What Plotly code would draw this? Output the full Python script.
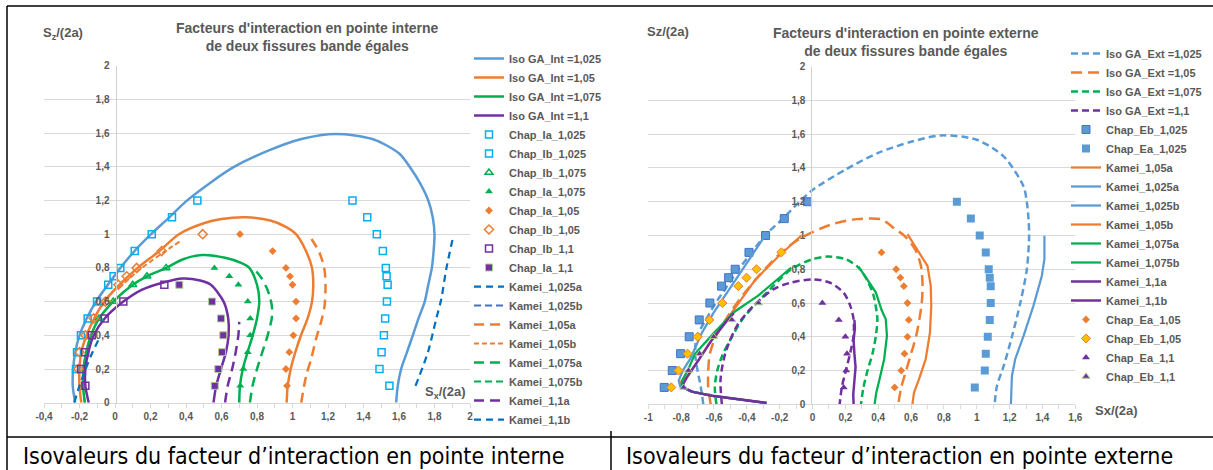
import plotly.graph_objects as go

W, H = 1213, 470
FONT = "Liberation Sans, Arial, sans-serif"
GRAY = "#595959"
BLUE, ORANGE, GREEN, PURPLE = "#5B9BD5", "#ED7D31", "#00B050", "#7030A0"
CYAN, DBLUE, MBLUE, LGREEN, GOLD = "#00B0F0", "#0070C0", "#4472C4", "#A9D18E", "#FFC000"

# ---------------- tick labels ----------------
X1_TICKS = [-0.4, -0.2, 0, 0.2, 0.4, 0.6, 0.8, 1, 1.2, 1.4, 1.6, 1.8, 2]
X1_LABELS = ["-0,4", "-0,2", "0", "0,2", "0,4", "0,6", "0,8", "1", "1,2", "1,4", "1,6", "1,8", "2"]
X2_TICKS = [-1, -0.8, -0.6, -0.4, -0.2, 0, 0.2, 0.4, 0.6, 0.8, 1, 1.2, 1.4, 1.6]
X2_LABELS = ["-1", "-0,8", "-0,6", "-0,4", "-0,2", "0", "0,2", "0,4", "0,6", "0,8", "1", "1,2", "1,4", "1,6"]
Y_TICKS = [0, 0.2, 0.4, 0.6, 0.8, 1, 1.2, 1.4, 1.6, 1.8, 2]
Y_LABELS = ["0", "0,2", "0,4", "0,6", "0,8", "1", "1,2", "1,4", "1,6", "1,8", "2"]

# ---------------- LEFT chart (pointe interne) ----------------
iso_int_1025_x = [-0.224, -0.238, -0.236, -0.224, -0.2, -0.16, -0.107, -0.04, 0.03, 0.11, 0.203, 0.306, 0.40, 0.53, 0.663, 0.85, 1.05, 1.245, 1.45, 1.6, 1.66, 1.72, 1.765, 1.79, 1.80, 1.795, 1.785, 1.765, 1.745, 1.71, 1.678, 1.645, 1.612, 1.593, 1.584]
iso_int_1025_y = [0, 0.1, 0.2, 0.3, 0.4, 0.5, 0.6, 0.7, 0.8, 0.9, 1.0, 1.1, 1.195, 1.3, 1.395, 1.49, 1.565, 1.595, 1.565, 1.48, 1.4, 1.3, 1.2, 1.1, 1.0, 0.9, 0.8, 0.7, 0.6, 0.5, 0.4, 0.3, 0.2, 0.1, 0]
iso_int_105_x = [-0.19, -0.2, -0.2, -0.19, -0.16, -0.117, -0.06, 0.025, 0.128, 0.25, 0.36, 0.5, 0.6, 0.74, 0.88, 0.96, 1.02, 1.076, 1.11, 1.117, 1.11, 1.085, 1.048, 1.016, 0.99, 0.973, 0.967]
iso_int_105_y = [0, 0.1, 0.2, 0.3, 0.4, 0.5, 0.6, 0.7, 0.8, 0.9, 1.0, 1.065, 1.09, 1.1, 1.08, 1.045, 1.0, 0.9, 0.8, 0.7, 0.6, 0.5, 0.4, 0.3, 0.2, 0.1, 0]
iso_int_1075_x = [-0.17, -0.18, -0.178, -0.162, -0.135, -0.09, -0.01, 0.1, 0.18, 0.29, 0.38, 0.49, 0.62, 0.71, 0.757, 0.8, 0.813, 0.8, 0.776, 0.747, 0.72, 0.704, 0.70]
iso_int_1075_y = [0, 0.1, 0.2, 0.3, 0.4, 0.5, 0.6, 0.7, 0.75, 0.8, 0.85, 0.876, 0.86, 0.83, 0.8, 0.7, 0.6, 0.5, 0.4, 0.3, 0.2, 0.1, 0]
iso_int_11_x = [-0.148, -0.167, -0.167, -0.15, -0.12, -0.058, 0.047, 0.15, 0.278, 0.38, 0.48, 0.54, 0.612, 0.638, 0.64, 0.625, 0.597, 0.57, 0.555]
iso_int_11_y = [0, 0.1, 0.2, 0.3, 0.4, 0.5, 0.6, 0.67, 0.715, 0.737, 0.725, 0.7, 0.6, 0.5, 0.4, 0.3, 0.2, 0.1, 0]

chap_ia_1025_x = [1.338, 1.421, 1.475, 1.509, 1.526, 1.53, 1.536, 1.532, 1.522, 1.515, 1.502, 1.49, 1.546]
chap_ia_1025_y = [1.2, 1.1, 1.0, 0.9, 0.8, 0.75, 0.7, 0.6, 0.5, 0.4, 0.3, 0.2, 0.1]
chap_ib_1025_x = [-0.22, -0.214, -0.192, -0.154, -0.101, -0.038, -0.008, 0.03, 0.111, 0.207, 0.321, 0.464]
chap_ib_1025_y = [0.2, 0.3, 0.4, 0.5, 0.6, 0.7, 0.75, 0.8, 0.9, 1.0, 1.1, 1.2]
chap_ib_1075_x = [0.288, 0.18, 0.1, -0.01, -0.09]
chap_ib_1075_y = [0.8, 0.75, 0.7, 0.6, 0.5]
chap_ia_1075_x = [0.56, 0.644, 0.695, 0.748, 0.762, 0.762, 0.748, 0.723, 0.706]
chap_ia_1075_y = [0.8, 0.75, 0.7, 0.6, 0.5, 0.4, 0.3, 0.2, 0.1]
chap_ia_105_x = [0.704, 0.888, 0.963, 0.986, 1.0, 1.02, 1.02, 1.005, 0.982, 0.963, 0.969]
chap_ia_105_y = [1.0, 0.9, 0.8, 0.75, 0.7, 0.6, 0.5, 0.4, 0.3, 0.2, 0.1]
chap_ib_105_x = [0.494, 0.263, 0.122, 0.066, 0.019, -0.054, -0.12, -0.167, -0.2, -0.207]
chap_ib_105_y = [1.0, 0.9, 0.8, 0.75, 0.7, 0.6, 0.5, 0.4, 0.3, 0.2]
chap_ib_11_x = [0.278, 0.047, -0.058, -0.131, -0.169, -0.191, -0.167]
chap_ib_11_y = [0.7, 0.6, 0.5, 0.4, 0.3, 0.2, 0.1]
chap_ia_11_x = [0.362, 0.547, 0.597, 0.61, 0.603, 0.582, 0.562]
chap_ia_11_y = [0.7, 0.6, 0.5, 0.4, 0.3, 0.2, 0.1]

kamei_1025a_x = [1.693, 1.763, 1.809, 1.838, 1.866, 1.904]
kamei_1025a_y = [0.1, 0.3, 0.495, 0.614, 0.792, 0.98]
kamei_1025b_x = [-0.18, -0.107, -0.04, 0.03]
kamei_1025b_y = [0.45, 0.6, 0.7, 0.8]
kamei_105a_x = [1.049, 1.077, 1.105, 1.133, 1.161, 1.18, 1.186, 1.18, 1.152, 1.096]
kamei_105a_y = [0.0, 0.16, 0.26, 0.38, 0.48, 0.57, 0.69, 0.79, 0.89, 0.99]
kamei_105b_x = [0.02, 0.14, 0.27, 0.37]
kamei_105b_y = [0.68, 0.79, 0.89, 0.96]
kamei_1075a_x = [0.76, 0.775, 0.8, 0.83, 0.86, 0.883, 0.885, 0.875, 0.855, 0.825, 0.795]
kamei_1075a_y = [0.0, 0.1, 0.2, 0.3, 0.4, 0.5, 0.56, 0.62, 0.68, 0.74, 0.78]
kamei_1075b_x = [-0.17, -0.18, -0.178, -0.162]
kamei_1075b_y = [0.0, 0.1, 0.2, 0.3]
kamei_11a_x = [0.62, 0.635, 0.66, 0.68, 0.695, 0.70]
kamei_11a_y = [0.0, 0.1, 0.2, 0.3, 0.4, 0.48]
kamei_11b_x = [-0.23, -0.2, -0.165, -0.135, -0.09]
kamei_11b_y = [0.0, 0.1, 0.2, 0.28, 0.38]

# ---------------- RIGHT chart (pointe externe) ----------------
iso_ext_1025_x = [-0.665, -0.68, -0.70, -0.715, -0.705, -0.65, -0.59, -0.52, -0.45, -0.37, -0.29, -0.18, -0.08, 0.0, 0.2, 0.4, 0.6, 0.78, 1.0, 1.165, 1.285, 1.305, 1.315, 1.319, 1.305, 1.265, 1.214, 1.164, 1.123, 1.109]
iso_ext_1025_y = [0, 0.1, 0.2, 0.3, 0.4, 0.5, 0.6, 0.7, 0.8, 0.9, 1.0, 1.1, 1.2, 1.27, 1.39, 1.49, 1.555, 1.593, 1.567, 1.467, 1.29, 1.196, 1.1, 1.0, 0.8, 0.6, 0.4, 0.227, 0.109, 0]
iso_ext_105_x = [-0.62, -0.635, -0.635, -0.625, -0.59, -0.53, -0.46, -0.38, -0.29, -0.19, -0.08, 0.0, 0.12, 0.27, 0.42, 0.5, 0.56, 0.624, 0.66, 0.67, 0.665, 0.65, 0.63, 0.6, 0.57, 0.54, 0.522]
iso_ext_105_y = [0, 0.1, 0.2, 0.3, 0.4, 0.5, 0.6, 0.7, 0.8, 0.9, 0.98, 1.02, 1.067, 1.097, 1.095, 1.04, 0.998, 0.919, 0.82, 0.7, 0.6, 0.5, 0.4, 0.3, 0.2, 0.1, 0]
iso_ext_1075_x = [-0.585, -0.595, -0.58, -0.545, -0.49, -0.43, -0.34, -0.24, -0.13, 0.0, 0.09, 0.2, 0.28, 0.33, 0.37, 0.39, 0.395, 0.385, 0.365, 0.335, 0.31, 0.295]
iso_ext_1075_y = [0, 0.1, 0.2, 0.3, 0.4, 0.5, 0.6, 0.7, 0.8, 0.86, 0.875, 0.86, 0.81, 0.74, 0.65, 0.55, 0.5, 0.4, 0.3, 0.2, 0.1, 0]
iso_ext_11_x = [-0.552, -0.56, -0.53, -0.46, -0.36, -0.237, -0.136, 0.006, 0.107, 0.19, 0.23, 0.25, 0.25, 0.23, 0.2, 0.18, 0.165]
iso_ext_11_y = [0, 0.148, 0.306, 0.465, 0.583, 0.682, 0.72, 0.74, 0.72, 0.66, 0.583, 0.504, 0.405, 0.306, 0.188, 0.109, 0]

chap_eb_1025_x = [-0.903, -0.854, -0.803, -0.751, -0.69, -0.625, -0.554, -0.511, -0.471, -0.387, -0.286, -0.172, -0.03]
chap_eb_1025_y = [0.1, 0.2, 0.3, 0.4, 0.5, 0.6, 0.7, 0.75, 0.8, 0.9, 1.0, 1.1, 1.2]
chap_ea_1025_x = [0.879, 0.964, 1.018, 1.055, 1.073, 1.079, 1.085, 1.085, 1.079, 1.067, 1.055, 1.049, 0.988]
chap_ea_1025_y = [1.2, 1.1, 1.0, 0.9, 0.8, 0.75, 0.7, 0.6, 0.5, 0.4, 0.3, 0.2, 0.1]

kam_e_105a_x = [-0.28, -0.41, -0.61, -0.735, -0.8, -0.805, -0.765, -0.695, -0.63, -0.553, -0.45, -0.35, -0.21, -0.068]
kam_e_105a_y = [0.008, 0.025, 0.05, 0.075, 0.105, 0.13, 0.164, 0.262, 0.36, 0.46, 0.6, 0.736, 0.874, 1.0]
kam_e_1025a_x = [-0.28, -0.41, -0.61, -0.735, -0.805, -0.815, -0.79, -0.744, -0.673, -0.602, -0.521, -0.44, -0.36, -0.288]
kam_e_1025a_y = [0.008, 0.025, 0.05, 0.075, 0.105, 0.14, 0.2, 0.27, 0.425, 0.543, 0.662, 0.78, 0.9, 1.0]
kam_e_1025b_x = [1.208, 1.214, 1.234, 1.285, 1.345, 1.396, 1.412, 1.412]
kam_e_1025b_y = [0.0, 0.168, 0.267, 0.405, 0.583, 0.76, 0.86, 0.998]
kam_e_105b_x = [0.608, 0.618, 0.648, 0.689, 0.715, 0.723, 0.72, 0.70, 0.648, 0.578]
kam_e_105b_y = [0.0, 0.069, 0.148, 0.267, 0.425, 0.583, 0.70, 0.82, 0.9, 1.008]
kam_e_1075a_x = [-0.28, -0.41, -0.61, -0.735, -0.795, -0.795, -0.76, -0.715, -0.594, -0.473, -0.331, -0.19, -0.13]
kam_e_1075a_y = [0.008, 0.025, 0.05, 0.075, 0.105, 0.14, 0.2, 0.3, 0.43, 0.55, 0.644, 0.76, 0.81]
kam_e_1075b_x = [0.378, 0.388, 0.408, 0.436, 0.453, 0.446, 0.42, 0.386, 0.34, 0.28]
kam_e_1075b_y = [0.0, 0.069, 0.148, 0.267, 0.405, 0.504, 0.56, 0.662, 0.73, 0.815]
kam_e_11a_x = [-0.28, -0.41, -0.61, -0.735, -0.785, -0.785, -0.765, -0.695, -0.614, -0.533, -0.48]
kam_e_11a_y = [0.008, 0.025, 0.05, 0.075, 0.1, 0.125, 0.16, 0.26, 0.38, 0.48, 0.54]
kam_e_11b_x = [0.25, 0.248, 0.255, 0.262, 0.255, 0.25, 0.258, 0.255]
kam_e_11b_y = [0.0, 0.06, 0.14, 0.22, 0.3, 0.38, 0.45, 0.5]

chap_ea_105_x = [0.42, 0.509, 0.535, 0.556, 0.578, 0.586, 0.578, 0.56, 0.54, 0.5]
chap_ea_105_y = [0.9, 0.8, 0.75, 0.7, 0.6, 0.5, 0.4, 0.3, 0.2, 0.1]
chap_eb_105_x = [-0.86, -0.816, -0.761, -0.699, -0.628, -0.549, -0.452, -0.402, -0.341, -0.19]
chap_eb_105_y = [0.1, 0.2, 0.3, 0.4, 0.5, 0.6, 0.7, 0.75, 0.8, 0.9]
chap_ea_11_x = [0.06, 0.16, 0.2, 0.21, 0.205, 0.19]
chap_ea_11_y = [0.6, 0.5, 0.4, 0.3, 0.2, 0.1]
chap_eb_11_x = [-0.785, -0.755, -0.688, -0.602, -0.491, -0.329]
chap_eb_11_y = [0.1, 0.2, 0.3, 0.4, 0.5, 0.6]

fig = go.Figure()


def line(name, xs, ys, color, width, dash, legend, side, shape="spline", order=0):
    fig.add_trace(go.Scatter(
        x=xs, y=ys, name=name, mode="lines",
        line=dict(color=color, width=width, dash=dash, shape=shape, smoothing=0.8 if shape == "spline" else None),
        xaxis="x" if side == 1 else "x2", yaxis="y" if side == 1 else "y2",
        legend=legend, legendrank=order, hoverinfo="skip"))


def pts(name, xs, ys, symbol, color, size, lcolor=None, lwidth=0, legend="legend", side=1, order=0):
    fig.add_trace(go.Scatter(
        x=xs, y=ys, name=name, mode="markers",
        marker=dict(symbol=symbol, color=color, size=size,
                    line=dict(color=lcolor or color, width=lwidth)),
        xaxis="x" if side == 1 else "x2", yaxis="y" if side == 1 else "y2",
        legend=legend, legendrank=order, hoverinfo="skip"))


# series hidden under others are drawn first (legend order fixed by legendrank)
line("Kamei_1,025b", kamei_1025b_x, kamei_1025b_y, MBLUE, 2, "7px,4px", "legend", 1, order=140)
line("Kamei_1,075b", kamei_1075b_x, kamei_1075b_y, GREEN, 2, "7px,4px", "legend", 1, order=180)

line("Iso GA_Int =1,025", iso_int_1025_x, iso_int_1025_y, BLUE, 2.5, "solid", "legend", 1, order=10)
line("Iso GA_Int =1,05", iso_int_105_x, iso_int_105_y, ORANGE, 2.5, "solid", "legend", 1, order=20)
line("Iso GA_Int =1,075", iso_int_1075_x, iso_int_1075_y, GREEN, 2.5, "solid", "legend", 1, order=30)
line("Iso GA_Int =1,1", iso_int_11_x, iso_int_11_y, PURPLE, 2.5, "solid", "legend", 1, order=40)
pts("Chap_Ia_1,025", chap_ia_1025_x, chap_ia_1025_y, "square-open", CYAN, 7, lwidth=1.5, order=50)
pts("Chap_Ib_1,025", chap_ib_1025_x, chap_ib_1025_y, "square-open", CYAN, 7, lwidth=1.5, order=60)
pts("Chap_Ib_1,075", chap_ib_1075_x, chap_ib_1075_y, "triangle-up-open", GREEN, 7, lwidth=1.5, order=70)
pts("Chap_Ia_1,075", chap_ia_1075_x, chap_ia_1075_y, "triangle-up", GREEN, 7, order=80)
pts("Chap_Ia_1,05", chap_ia_105_x, chap_ia_105_y, "diamond", ORANGE, 6, order=90)
pts("Chap_Ib_1,05", chap_ib_105_x, chap_ib_105_y, "diamond-open", ORANGE, 7, lwidth=1.5, order=100)
pts("Chap_Ib_1,1", chap_ib_11_x, chap_ib_11_y, "square-open", PURPLE, 7, lwidth=1.5, order=110)
pts("Chap_Ia_1,1", chap_ia_11_x, chap_ia_11_y, "square", PURPLE, 7, lcolor=LGREEN, lwidth=1, order=120)
line("Kamei_1,025a", kamei_1025a_x, kamei_1025a_y, DBLUE, 2.25, "7px,5px", "legend", 1, order=130)
line("Kamei_1,05a", kamei_105a_x, kamei_105a_y, ORANGE, 2.5, "10px,6px", "legend", 1, order=150)
line("Kamei_1,05b", kamei_105b_x, kamei_105b_y, ORANGE, 2, "5px,3px", "legend", 1, order=160)
line("Kamei_1,075a", kamei_1075a_x, kamei_1075a_y, GREEN, 2.5, "10px,6px", "legend", 1, order=170)
line("Kamei_1,1a", kamei_11a_x, kamei_11a_y, PURPLE, 2.5, "10px,6px", "legend", 1, order=190)
line("Kamei_1,1b", kamei_11b_x, kamei_11b_y, DBLUE, 2.25, "7px,5px", "legend", 1, order=200)

# right chart
L2 = "legend2"
line("Iso GA_Ext =1,025", iso_ext_1025_x, iso_ext_1025_y, BLUE, 2.5, "7px,4px", L2, 2, order=10)
line("Iso GA_Ext =1,05", iso_ext_105_x, iso_ext_105_y, ORANGE, 2.5, "11px,6px", L2, 2, order=20)
line("Iso GA_Ext =1,075", iso_ext_1075_x, iso_ext_1075_y, GREEN, 2.5, "7px,4px", L2, 2, order=30)
line("Iso GA_Ext =1,1", iso_ext_11_x, iso_ext_11_y, PURPLE, 2.5, "7px,4px", L2, 2, order=40)
pts("Chap_Eb_1,025", chap_eb_1025_x, chap_eb_1025_y, "square", BLUE, 8, lcolor=MBLUE, lwidth=1, legend=L2, side=2, order=50)
pts("Chap_Ea_1,025", chap_ea_1025_x, chap_ea_1025_y, "square", BLUE, 8, legend=L2, side=2, order=60)
line("Kamei_1,05a", kam_e_105a_x, kam_e_105a_y, ORANGE, 2.25, "solid", L2, 2, shape="linear", order=70)
line("Kamei_1,025a", kam_e_1025a_x, kam_e_1025a_y, BLUE, 2.25, "solid", L2, 2, shape="linear", order=80)
line("Kamei_1,025b", kam_e_1025b_x, kam_e_1025b_y, BLUE, 2.25, "solid", L2, 2, shape="linear", order=90)
line("Kamei_1,05b", kam_e_105b_x, kam_e_105b_y, ORANGE, 2.25, "solid", L2, 2, shape="linear", order=100)
line("Kamei_1,075a", kam_e_1075a_x, kam_e_1075a_y, GREEN, 2.25, "solid", L2, 2, shape="linear", order=110)
line("Kamei_1,075b", kam_e_1075b_x, kam_e_1075b_y, GREEN, 2.25, "solid", L2, 2, shape="linear", order=120)
line("Kamei_1,1a", kam_e_11a_x, kam_e_11a_y, PURPLE, 2.5, "solid", L2, 2, shape="linear", order=130)
line("Kamei_1,1b", kam_e_11b_x, kam_e_11b_y, PURPLE, 2.5, "solid", L2, 2, shape="linear", order=140)
pts("Chap_Ea_1,05", chap_ea_105_x, chap_ea_105_y, "diamond", ORANGE, 6, legend=L2, side=2, order=150)
pts("Chap_Eb_1,05", chap_eb_105_x, chap_eb_105_y, "diamond", GOLD, 7, lcolor=ORANGE, lwidth=1, legend=L2, side=2, order=160)
pts("Chap_Ea_1,1", chap_ea_11_x, chap_ea_11_y, "triangle-up", PURPLE, 7, legend=L2, side=2, order=170)
pts("Chap_Eb_1,1", chap_eb_11_x, chap_eb_11_y, "triangle-up", PURPLE, 7, lcolor=LGREEN, lwidth=1, legend=L2, side=2, order=180)

tickfont = dict(family=FONT, size=10, color=GRAY, weight="bold")
AX = "#D9D9D9"


def xax(dom, rng, vals, labels, t0, anchor):
    return dict(domain=dom, range=rng, anchor=anchor, tickmode="array", tickvals=vals, ticktext=labels,
                showgrid=False, zeroline=False, showline=True, linecolor=AX, linewidth=1,
                ticks="outside", ticklen=4, tickcolor=AX, tickfont=tickfont, automargin=False,
                minor=dict(ticks="outside", ticklen=4, tickcolor=AX, tickmode="linear", tick0=t0, dtick=0.1, showgrid=False),
                fixedrange=True)


def yax(dom, pos):
    return dict(domain=dom, range=[0, 2], anchor="free", position=pos, tickmode="array",
                tickvals=Y_TICKS, ticktext=Y_LABELS, showgrid=True, gridcolor=AX, gridwidth=1,
                zeroline=False, showline=True, linecolor="#D0D0D0", linewidth=1, ticks="",
                tickfont=tickfont, ticklabelstandoff=4, automargin=False, fixedrange=True)


fig.update_layout(
    width=W, height=H, margin=dict(l=0, r=0, t=0, b=0, pad=0, autoexpand=False),
    paper_bgcolor="white", plot_bgcolor="white", showlegend=True,
    xaxis=xax([44 / W, 470 / W], [-0.4, 2], X1_TICKS, X1_LABELS, -0.4, "y"),
    yaxis=yax([1 - 402.7 / H, 1 - 65.7 / H], 115.5 / W),
    xaxis2=xax([648.3 / W, 1075.3 / W], [-1, 1.6], X2_TICKS, X2_LABELS, -1, "y2"),
    yaxis2=yax([1 - 404.3 / H, 1 - 66.7 / H], 811.3 / W),
    legend=dict(x=469 / W, y=1 - 44 / H, xanchor="left", yanchor="top", bgcolor="rgba(0,0,0,0)",
                font=dict(family=FONT, size=11, color=GRAY, weight="bold"), tracegroupgap=0),
    legend2=dict(x=1066 / W, y=1 - 39 / H, xanchor="left", yanchor="top", bgcolor="rgba(0,0,0,0)",
                 font=dict(family=FONT, size=11, color=GRAY, weight="bold"), tracegroupgap=0),
)


def ann(text, x, y, size, xanchor="left", bold=True, family=FONT, color=GRAY, align="center"):
    fig.add_annotation(text=text, x=x / W, y=1 - y / H, xref="paper", yref="paper",
                       xanchor=xanchor, yanchor="middle", showarrow=False, align=align,
                       font=dict(family=family, size=size, color=color, weight="bold" if bold else "normal"))


ann("Facteurs d'interaction en pointe interne<br>de deux fissures bande égales", 307.5, 37, 14, "center")
ann("Facteurs d'interaction en pointe externe<br>de deux fissures bande égales", 906, 42, 14, "center")
ann("S<sub>z</sub>/(2a)", 41, 33, 13)
ann("Sz/(2a)", 645, 32, 13)
ann("S<sub>x</sub>/(2a)", 467, 392, 13, "right")
ann("Sx/(2a)", 1093, 410, 13)
NARROW = "Liberation Sans Narrow, Arial Narrow, DejaVu Sans Condensed, sans-serif"
ann("Isovaleurs du facteur d’interaction en pointe interne", 21, 456, 23, bold=False, family=NARROW, color="black", align="left")
ann("Isovaleurs du facteur d’interaction en pointe externe", 624, 456, 23, bold=False, family=NARROW, color="black", align="left")

# table borders
for x0, y0, x1, y1 in [(7, 6, W, 6), (7, 6, 7, H), (7, 437, W, 437), (611, 431, 611, H)]:
    fig.add_shape(type="line", xref="paper", yref="paper", x0=x0 / W, y0=1 - y0 / H, x1=x1 / W, y1=1 - y1 / H,
                  line=dict(color="black", width=1.5))

fig.write_html("out.html", config={"displayModeBar": False},
               post_script="document.body.style.margin='0px';")
